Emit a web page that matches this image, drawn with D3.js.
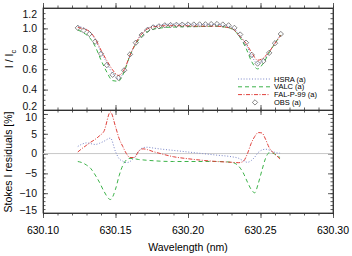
<!DOCTYPE html>
<html>
<head>
<meta charset="utf-8">
<script src="https://cdn.jsdelivr.net/npm/d3@7"></script>
<style>
  body { margin: 0; background: #fff; }
  svg { display: block; font-family: "Liberation Sans", Arial, sans-serif; }
  .axis path, .axis line { stroke: #333; stroke-width: 0.8; }
  .axis text { fill: #111; }
</style>
</head>
<body>
<svg width="352" height="256"></svg>
<script>
// observed profile (diamonds) and synthetic profiles on the same wavelength grid
var obsWl = [630.124, 630.128, 630.132, 630.136, 630.140, 630.144, 630.148, 630.152, 630.156, 630.160,
             630.164, 630.168, 630.172, 630.176, 630.180, 630.184, 630.188, 630.192, 630.196, 630.200,
             630.204, 630.208, 630.212, 630.216, 630.220, 630.224, 630.228, 630.232, 630.236, 630.240,
             630.244, 630.248, 630.252, 630.256, 630.260, 630.264];
var obsI  = [1.005, 0.980, 0.945, 0.870, 0.750, 0.640, 0.545, 0.515, 0.590, 0.745,
             0.860, 0.935, 0.985, 1.010, 1.020, 1.030, 1.033, 1.035, 1.037, 1.038,
             1.038, 1.039, 1.040, 1.042, 1.043, 1.038, 1.030, 1.005, 0.940, 0.860,
             0.740, 0.655, 0.680, 0.760, 0.855, 0.945];
var hsraI = [1.023, 1.004, 0.970, 0.890, 0.771, 0.662, 0.556, 0.510, 0.578, 0.730,
             0.856, 0.946, 1.001, 1.024, 1.032, 1.040, 1.042, 1.042, 1.042, 1.042,
             1.040, 1.040, 1.039, 1.039, 1.039, 1.032, 1.023, 0.995, 0.927, 0.842,
             0.727, 0.656, 0.687, 0.767, 0.858, 0.946];
var valcI = [0.985, 0.955, 0.912, 0.823, 0.690, 0.572, 0.488, 0.482, 0.575, 0.736,
             0.848, 0.920, 0.968, 0.992, 1.001, 1.009, 1.012, 1.014, 1.016, 1.017,
             1.017, 1.018, 1.019, 1.021, 1.022, 1.016, 1.007, 0.979, 0.909, 0.806,
             0.672, 0.603, 0.660, 0.762, 0.853, 0.936];
var falI  = [1.009, 0.996, 0.970, 0.901, 0.787, 0.685, 0.593, 0.539, 0.596, 0.738,
             0.856, 0.944, 0.995, 1.015, 1.021, 1.027, 1.027, 1.026, 1.026, 1.025,
             1.022, 1.022, 1.021, 1.022, 1.022, 1.016, 1.007, 0.983, 0.918, 0.854,
             0.761, 0.688, 0.711, 0.771, 0.853, 0.932];

// residuals [%]
var resWl   = [630.124, 630.127, 630.130, 630.133, 630.136, 630.139, 630.142, 630.1465, 630.150, 630.1525,
               630.155, 630.1575, 630.160, 630.163, 630.166, 630.169, 630.172, 630.176, 630.180, 630.190,
               630.200, 630.210, 630.220, 630.230, 630.235, 630.238, 630.241, 630.2435, 630.246, 630.2485,
               630.251, 630.2535, 630.256, 630.2585, 630.261, 630.2635];
var hsraRes = [1.8, 2.4, 2.7, 2.5, 2.3, 2.6, 3.1, 3.9, 0.5, -1.3,
               -1.9, -2.3, -2.0, -1.0, 0.6, 1.5, 1.6, 1.4, 1.2, 0.8,
               0.4, 0.0, -0.4, -0.8, -1.2, -1.8, -2.2, -1.8, -0.9, 0.3,
               0.9, 1.1, 0.9, 0.5, 0.2, 0.1];
var valcRes = [-2.0, -2.3, -2.9, -3.8, -5.4, -7.3, -9.5, -11.6, -9.0, -5.6,
               -3.0, -1.6, -1.2, -1.3, -1.5, -1.6, -1.7, -1.8, -1.9, -2.0,
               -2.0, -2.0, -2.0, -2.2, -3.2, -4.8, -7.2, -9.0, -9.9, -7.5,
               -4.2, -1.2, 0.2, 0.1, -0.4, -1.0];
var falRes  = [0.4, 1.3, 2.1, 2.9, 3.6, 4.5, 5.6, 10.5, 6.8, 3.8,
               1.8, 0.0, -1.0, -1.0, 0.6, 1.2, 1.0, 0.5, 0.1, -0.8,
               -1.3, -1.7, -2.0, -2.2, -2.3, -2.0, 0.0, 2.5, 4.3, 5.3,
               5.2, 3.6, 1.5, 0.3, -0.5, -1.4];

var xTicks = [630.10, 630.15, 630.20, 630.25, 630.30];
var xTickLabels = ["630.10", "630.15", "630.20", "630.25", "630.30"];
var topTicks = [0.2, 0.4, 0.6, 0.8, 1.0, 1.2];
var botTicks = [-15, -10, -5, 0, 5, 10];

var seriesNames = ["HSRA (a)", "VALC (a)", "FAL-P-99 (a)", "OBS (a)"];
var seriesColors = ["#7a86c8", "#3db34a", "#e0413c", "#333333"];
var seriesDash = ["1,1.8", "4,3", "4,1.5,1,1.5", null];

var svg = d3.select("svg");
var left = 43, right = 333;

var x = d3.scaleLinear().domain([630.10, 630.30]).range([left, right]);
var yTop = d3.scaleLinear().domain([0.2, 1.2]).range([110, 8]);
var yBot = d3.scaleLinear().domain([-15, 11]).range([213, 110]);

function drawAxes(y, yT, yMinor, top, bottom, labels) {
    // minor ticks
    var minX = d3.range(630.10, 630.3001, 0.01);
    [[d3.axisBottom, top, 1], [d3.axisTop, bottom, 1]].forEach(function(a) {
        svg.append("g").attr("class", "axis")
            .attr("transform", "translate(0," + a[1] + ")")
            .call(a[0](x).tickValues(minX).tickSizeInner(-2.5).tickSizeOuter(0).tickFormat(""));
        svg.append("g").attr("class", "axis")
            .attr("transform", "translate(0," + a[1] + ")")
            .call(a[0](x).tickValues(xTicks).tickSizeInner(-5).tickSizeOuter(0).tickFormat(""));
    });
    [[d3.axisLeft, left], [d3.axisRight, right]].forEach(function(a) {
        svg.append("g").attr("class", "axis")
            .attr("transform", "translate(" + a[1] + ",0)")
            .call(a[0](y).tickValues(yMinor).tickSizeInner(-2.5).tickSizeOuter(0).tickFormat(""));
        var g = svg.append("g").attr("class", "axis")
            .attr("transform", "translate(" + a[1] + ",0)")
            .call(a[0](y).tickValues(yT).tickSizeInner(-5).tickSizeOuter(0)
                .tickPadding(6).tickFormat(labels));
        if (a[1] === right) g.selectAll("text").remove();
        g.selectAll("text").style("font-size", "10.5px");
    });
}

var yMinTop = d3.range(0.2, 1.2001, 0.05);
var yMinBot = d3.range(-15, 11.001, 1);
drawAxes(yTop, topTicks, yMinTop, 8, 110, d3.format(".1f"));
drawAxes(yBot, botTicks, yMinBot, 110, 213, d3.format("d"));

// nudge edge labels inward like the original
svg.selectAll(".axis .tick text").each(function(d) {
    var t = d3.select(this);
    if (d === 1.2) t.attr("dy", "0.9em");
    if (d === 0.2) t.attr("dy", "-0.08em");
    if (d === 10) t.attr("dy", "0.58em");
    if (d === -15) t.attr("dy", "0.03em");
});

// frame
svg.append("rect").attr("x", left).attr("y", 8).attr("width", right - left).attr("height", 205)
    .attr("fill", "none").attr("stroke", "#333").attr("stroke-width", 0.8);
svg.append("line").attr("x1", left).attr("x2", right).attr("y1", 110).attr("y2", 110)
    .attr("stroke", "#333").attr("stroke-width", 0.8);

// zero line
svg.append("line").attr("x1", left).attr("x2", right).attr("y1", yBot(0)).attr("y2", yBot(0))
    .attr("stroke", "#c8c8c8").attr("stroke-width", 1);

// x tick labels
svg.append("g").selectAll("text").data(xTicks).enter().append("text")
    .attr("x", function(d) { return x(d); })
    .attr("y", 234)
    .attr("text-anchor", "middle")
    .style("font-size", "10.5px")
    .text(function(d, i) { return xTickLabels[i]; });

// axis titles
svg.append("text").attr("x", (left + right) / 2).attr("y", 251).attr("text-anchor", "middle")
    .style("font-size", "10.5px").text("Wavelength (nm)");
var yl = svg.append("text").attr("transform", "translate(13,59) rotate(-90)")
    .attr("text-anchor", "middle").style("font-size", "10.5px");
yl.append("tspan").text("I / I");
yl.append("tspan").attr("dy", 2.5).style("font-size", "7.5px").text("c");
svg.append("text").attr("transform", "translate(12,162) rotate(-90)")
    .attr("text-anchor", "middle").style("font-size", "10.5px").text("Stokes I residuals [%]");

// profiles
function drawLine(xs, ys, y, i) {
    var line = d3.line()
        .x(function(d) { return x(d[0]); })
        .y(function(d) { return y(d[1]); })
        .curve(d3.curveMonotoneX);
    svg.append("path")
        .datum(d3.zip(xs, ys))
        .attr("fill", "none")
        .attr("stroke", seriesColors[i])
        .attr("stroke-width", 1)
        .attr("stroke-dasharray", seriesDash[i])
        .attr("d", line);
}
drawLine(obsWl, hsraI, yTop, 0);
drawLine(obsWl, valcI, yTop, 1);
drawLine(obsWl, falI, yTop, 2);

var diamond = d3.symbol().type(d3.symbolDiamond2 || d3.symbolDiamond).size(18);
svg.append("g").selectAll("path").data(d3.zip(obsWl, obsI)).enter().append("path")
    .attr("transform", function(d) { return "translate(" + x(d[0]) + "," + yTop(d[1]) + ")"; })
    .attr("d", diamond)
    .attr("fill", "none").attr("stroke", "#555").attr("stroke-width", 0.7);

drawLine(resWl, hsraRes, yBot, 0);
drawLine(resWl, valcRes, yBot, 1);
drawLine(resWl, falRes, yBot, 2);

// legend
var leg = svg.append("g");
seriesNames.forEach(function(name, i) {
    var ly = 79 + i * 7.8;
    if (i < 3) {
        leg.append("line").attr("x1", 238).attr("x2", 270).attr("y1", ly).attr("y2", ly)
            .attr("stroke", seriesColors[i]).attr("stroke-width", 1)
            .attr("stroke-dasharray", seriesDash[i]);
    } else {
        leg.append("path").attr("transform", "translate(255," + ly + ")").attr("d", diamond)
            .attr("fill", "none").attr("stroke", "#555").attr("stroke-width", 0.7);
    }
    leg.append("text").attr("x", 274).attr("y", ly + 2.6)
        .style("font-size", "7.5px").text(name);
});
</script>
</body>
</html>
